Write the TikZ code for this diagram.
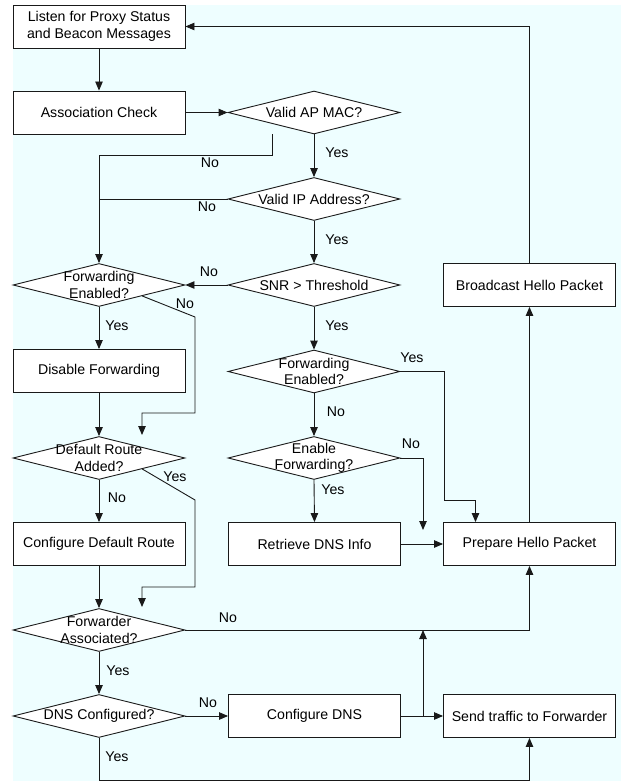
\documentclass[tikz,border=0pt]{standalone}
\usepackage{fontspec}
\setmainfont{Liberation Sans}
\usetikzlibrary{arrows.meta,shapes.geometric,calc}
\definecolor{bgc}{RGB}{238,254,255}
\definecolor{ln}{RGB}{25,25,25}
\begin{document}
\begin{tikzpicture}[x=1bp,y=-1bp,
  every node/.style={font=\fontsize{14.2}{16.7}\selectfont},
  box/.style={draw=ln,fill=white,line width=0.9bp,minimum width=172bp,minimum height=43bp,inner sep=0pt,align=center},
  dia/.style={draw=ln,fill=white,line width=0.9bp,diamond,minimum width=172bp,minimum height=43bp,inner sep=0pt},
  dtext/.style={align=center,inner sep=0pt},
  lab/.style={inner sep=0pt},
  arr/.style={draw=ln,line width=0.9bp,-{Triangle[length=9bp,width=7.5bp]}},
  ln/.style={draw=ln,line width=0.9bp}]
\useasboundingbox (0,0) rectangle (621,781);
\fill[bgc] (13,5) rectangle (621,781);
% boxes
\node[box] (listen) at (99,26.5) {Listen for Proxy Status\\and Beacon Messages};
\node[box] (assoc) at (99,112.5) {Association Check};
\node[box] (disable) at (99,371) {Disable Forwarding};
\node[box] (cdr) at (99,544) {Configure Default Route};
\node[box] (bcast) at (529.5,285) {Broadcast Hello Packet};
\node[box] (prep) at (529.5,544) {Prepare Hello Packet};
\node[box] (retr) at (314.5,544) {Retrieve DNS Info};
\node[box] (cdns) at (314.5,716) {Configure DNS};
\node[box] (send) at (529.5,716) {Send traffic to Forwarder};
% diamonds
\node[dia,label={[dtext]center:Valid AP MAC?}] (vap) at (314,112.5) {};
\node[dia,label={[dtext]center:Valid IP Address?}] (vip) at (314,199) {};
\node[dia,label={[dtext]center:SNR > Threshold}] (snr) at (314,285) {};
\node[dia,label={[dtext]center:Forwarding\\Enabled?}] (fe2) at (314,371.5) {};
\node[dia,label={[dtext]center:Enable\\Forwarding?}] (ef) at (314,458) {};
\node[dia,label={[dtext]center:Forwarding\\Enabled?}] (fe1) at (99,285) {};
\node[dia,label={[dtext]center:Default Route\\Added?}] (dra) at (99,458) {};
\node[dia,label={[dtext]center:Forwarder\\Associated?}] (fa) at (99,630) {};
\node[dia,label={[dtext]center:DNS Configured?}] (dnsc) at (99,716) {};
% free-end coordinates
\coordinate (vapno) at (272,134);
\coordinate (fe1a) at (195,317);
\coordinate (dratgt) at (142,435);
\coordinate (draa) at (195,500);
\coordinate (fatgt) at (142,607);
\coordinate (bot) at (99,780);
\coordinate (br) at (423,716);
\coordinate (efno) at (423,530);
\coordinate (fe2b) at (444,500);
% connectors
\draw[arr] (listen.south) -- (assoc.north);
\draw[arr] (assoc.east) -- (vap.west);
\draw[arr] (vapno) -- ++(0,21) -| (fe1.north);
\draw[ln] (vip.west) -- (vip.west -| fe1.north);
\draw[arr] (vap.south) -- (vip.north);
\draw[arr] (vip.south) -- (snr.north);
\draw[arr] (snr.south) -- (fe2.north);
\draw[arr] (fe2.south) -- (ef.north);
\draw[arr] (ef.south) -- (retr.north);
\draw[arr] (snr.west) -- (fe1.east);
\draw[arr] (fe1.south) -- (disable.north);
\draw[arr] (disable.south) -- (dra.north);
\draw[arr] (dra.south) -- (cdr.north);
\draw[arr] (cdr.south) -- (fa.north);
\draw[arr] (fa.south) -- (dnsc.north);
\draw[arr] (fe1.south east) -- (fe1a) |- ([yshift=22bp]dratgt) -- (dratgt);
\draw[arr] (dra.south east) -- (draa) |- ([yshift=20bp]fatgt) -- (fatgt);
\draw[arr] (fa.east) -| (prep.south);
\draw[arr] (dnsc.east) -- (cdns.west);
\draw[arr] (dnsc.south) -- (bot) -| (send.south);
\draw[arr] (cdns.east) -- (send.west);
\draw[arr] (br) -- (br |- fa.east);
\draw[arr] (retr.east) -- (prep.west);
\draw[arr] (ef.east) -| (efno);
\draw[arr] (fe2.east) -| (fe2b) -| ([xshift=-54bp]prep.north);
\draw[arr] (prep.north) -- (bcast.south);
\draw[arr] (bcast.north) |- (listen.east);
% labels
\node[lab] (l1) at (337,153) {Yes};
\node[lab] (l2) at (210,163) {No};
\node[lab] (l3) at (207,207) {No};
\node[lab] (l4) at (337,240) {Yes};
\node[lab] (l5) at (209,272) {No};
\node[lab] (l6) at (185,304) {No};
\node[lab] (l7) at (117,326) {Yes};
\node[lab] (l8) at (337,326) {Yes};
\node[lab] (l9) at (412,358) {Yes};
\node[lab] (l10) at (336,412) {No};
\node[lab] (l11) at (411,444) {No};
\node[lab] (l12) at (175,477) {Yes};
\node[lab] (l13) at (333,490) {Yes};
\node[lab] (l14) at (117,498) {No};
\node[lab] (l15) at (228,618) {No};
\node[lab] (l16) at (118,671) {Yes};
\node[lab] (l17) at (208,703) {No};
\node[lab] (l18) at (117,757) {Yes};
\end{tikzpicture}
\end{document}
